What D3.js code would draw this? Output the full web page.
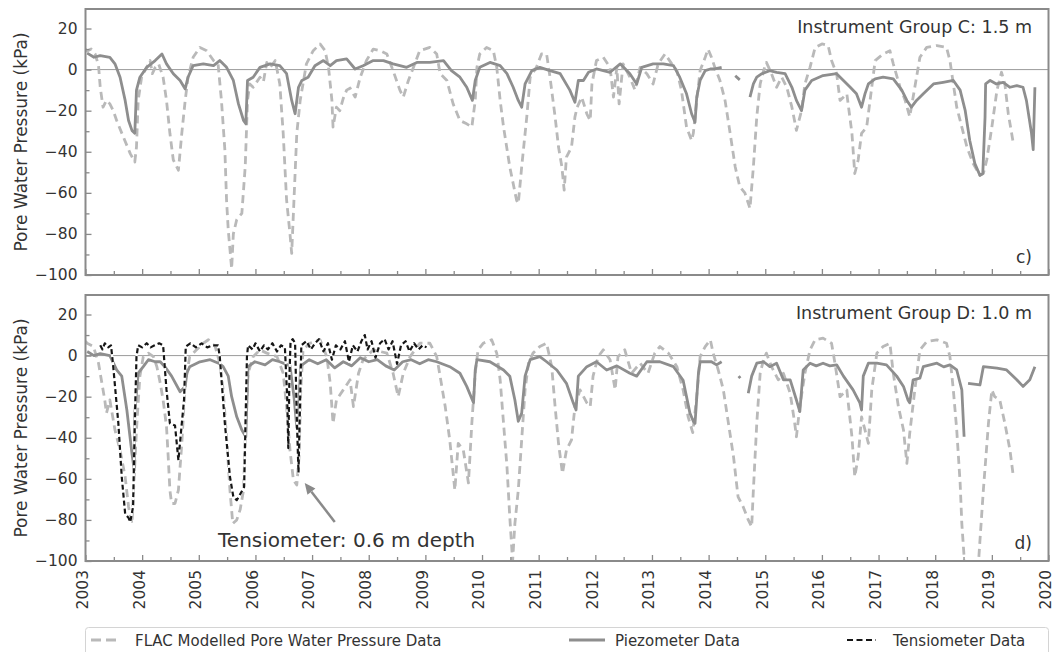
<!DOCTYPE html>
<html><head><meta charset="utf-8">
<script src="https://cdn.jsdelivr.net/npm/d3@7"></script>
<style>
body{margin:0;background:#fff}
svg text{font-family:"DejaVu Sans",sans-serif;fill:#333}
</style>
</head><body>
<svg id="chart" width="1055" height="652"></svg>
<script>
// ---------- DATA (decimal year, kPa) ----------
const yearTicks = d3.range(2003, 2021);
const yMajorTicks = [-100, -80, -60, -40, -20, 0, 20];
const yMinorTicks = [-90, -70, -50, -30, -10, 10];
const panelTitles = ["Instrument Group C: 1.5 m", "Instrument Group D: 1.0 m"];
const panelLetters = ["c)", "d)"];
const seriesNames = ["FLAC Modelled Pore Water Pressure Data", "Piezometer Data", "Tensiometer Data"];
const yAxisTitle = "Pore Water Pressure (kPa)";
const annotationText = "Tensiometer: 0.6 m depth";
const annotationTip = [2006.87, -62];
const annotationTail = [2007.40, -81];
const annotationTextPos = [2005.34, -93];

const flacC = [[2003.0,10],[2003.03,9],[2003.10,10],[2003.17,7.6],[2003.23,2],[2003.26,-8.6],[2003.31,-18.3],[2003.37,-15],[2003.43,-16.7],[2003.49,-20],[2003.55,-24.8],[2003.67,-32.9],[2003.79,-40.9],[2003.87,-45],[2003.90,-37.7],[2003.93,-15],[2003.99,-3.7],[2004.08,1.1],[2004.14,4.4],[2004.18,-2],[2004.23,1],[2004.29,2.8],[2004.37,-3.7],[2004.43,-15],[2004.49,-31],[2004.55,-44],[2004.64,-49],[2004.70,-31],[2004.76,-15],[2004.81,-3.7],[2004.90,6],[2005.02,10.8],[2005.14,9.2],[2005.26,4.4],[2005.34,2.8],[2005.40,-15],[2005.46,-39],[2005.49,-63.6],[2005.52,-78],[2005.58,-97],[2005.61,-80],[2005.67,-73],[2005.76,-70],[2005.82,-47],[2005.86,-15],[2005.90,-7],[2005.96,-8.6],[2006.08,-3.7],[2006.14,-6],[2006.20,3.5],[2006.26,1],[2006.35,4.4],[2006.43,-7],[2006.49,-31],[2006.55,-63.6],[2006.61,-80],[2006.64,-89.5],[2006.68,-63.6],[2006.73,-31],[2006.79,-15],[2006.90,2.8],[2007.02,9.2],[2007.14,12.5],[2007.23,9.2],[2007.29,1.1],[2007.35,-15],[2007.37,-28],[2007.43,-18.3],[2007.49,-20],[2007.55,-14],[2007.61,-10],[2007.67,-9],[2007.76,-13.4],[2007.85,-3.7],[2007.96,4.4],[2008.08,10],[2008.20,9.2],[2008.32,7.6],[2008.43,-0.5],[2008.55,-10],[2008.61,-13.4],[2008.70,-5.3],[2008.79,1.1],[2008.90,9.2],[2009.08,10.8],[2009.20,7.6],[2009.26,-2],[2009.38,-5.3],[2009.49,-16.7],[2009.61,-24.8],[2009.73,-26.4],[2009.82,-28],[2009.88,-15],[2009.91,1.1],[2009.96,7.6],[2010.08,10.8],[2010.20,9.2],[2010.26,1.1],[2010.32,-15],[2010.38,-28],[2010.49,-47.4],[2010.61,-63.6],[2010.64,-65.2],[2010.70,-47.4],[2010.79,-23],[2010.85,-3.7],[2010.96,1.1],[2011.05,7.6],[2011.14,7.6],[2011.20,-3.7],[2011.29,-23],[2011.35,-37.7],[2011.41,-47.4],[2011.45,-58.7],[2011.49,-42.6],[2011.58,-37.7],[2011.64,-23],[2011.68,-18.3],[2011.76,-13.4],[2011.85,-21.5],[2011.91,-24.8],[2011.94,-7],[2012.02,4.4],[2012.14,6],[2012.26,1.1],[2012.32,-13.4],[2012.38,1.1],[2012.42,-16.7],[2012.49,2.8],[2012.61,-3.7],[2012.70,-10],[2012.79,1.1],[2012.91,-2],[2013.02,-7],[2013.11,2.8],[2013.23,7.6],[2013.35,2.8],[2013.44,-0.5],[2013.52,-10],[2013.61,-28],[2013.70,-34.5],[2013.73,-31],[2013.79,-15],[2013.85,-0.5],[2013.94,6],[2013.99,10],[2014.05,6],[2014.11,1.1],[2014.20,-5.3],[2014.29,-15],[2014.38,-31],[2014.47,-47.4],[2014.55,-57],[2014.64,-60],[2014.73,-67.6],[2014.79,-47.4],[2014.85,-23],[2014.91,-7],[2014.97,-0.5],[2015.02,3.5],[2015.11,-2],[2015.20,-8.6],[2015.29,-3.7],[2015.38,-8.6],[2015.47,-18.3],[2015.55,-29.6],[2015.64,-20],[2015.70,-7],[2015.79,1.1],[2015.88,10.8],[2016.00,12.5],[2016.11,11.7],[2016.17,4.4],[2016.26,-2],[2016.32,-15],[2016.44,-11.8],[2016.53,-31],[2016.58,-50.6],[2016.64,-44],[2016.70,-31],[2016.79,-28],[2016.85,-15],[2016.94,4.4],[2017.08,7.6],[2017.20,9.2],[2017.26,2.8],[2017.38,-8.6],[2017.47,-15],[2017.55,-23],[2017.64,-8.6],[2017.73,6],[2017.85,10.8],[2018.03,11.7],[2018.20,10.8],[2018.26,4.4],[2018.32,-7],[2018.38,-18.3],[2018.47,-28],[2018.56,-37.7],[2018.67,-45.8],[2018.79,-51.5],[2018.85,-50.6],[2018.91,-44],[2019.00,-28],[2019.09,-10],[2019.17,-1.3],[2019.23,-7],[2019.29,-21.5],[2019.38,-36]];

const piezoC = [[2003.03,8],[2003.15,6],[2003.26,6.8],[2003.43,6],[2003.52,2.8],[2003.61,-3.7],[2003.70,-15],[2003.76,-24.8],[2003.82,-29.6],[2003.87,-31],[2003.90,-10],[2003.96,-3.7],[2004.08,1.1],[2004.23,4.4],[2004.35,7.6],[2004.43,2.8],[2004.55,-2],[2004.67,-5.3],[2004.76,-9.4],[2004.81,-3.7],[2004.90,1.9],[2005.08,2.8],[2005.26,1.9],[2005.37,4.4],[2005.49,1.1],[2005.61,-5.3],[2005.70,-16.7],[2005.79,-24.8],[2005.83,-26.4],[2005.86,-5.3],[2005.96,-3.7],[2006.08,1.1],[2006.26,2.8],[2006.43,1.9],[2006.55,-2],[2006.64,-15],[2006.70,-21.5],[2006.76,-8.6],[2006.82,-5.3],[2006.93,-3.7],[2007.05,1.9],[2007.20,4.4],[2007.32,1.9],[2007.43,4.4],[2007.61,5.2],[2007.76,0.3],[2007.90,1.9],[2008.08,4.4],[2008.26,4.4],[2008.43,2.8],[2008.67,1.1],[2008.85,3.5],[2009.08,3.5],[2009.32,4.4],[2009.46,-0.5],[2009.61,-3.7],[2009.73,-8.6],[2009.83,-15],[2009.88,-5.3],[2009.96,1.1],[2010.14,3.5],[2010.32,1.9],[2010.44,-2],[2010.55,-8.6],[2010.64,-15],[2010.70,-18.3],[2010.76,-7],[2010.88,-0.5],[2011.02,1.1],[2011.20,-0.5],[2011.38,-2],[2011.55,-10],[2011.64,-15.9],[2011.70,-5.3],[2011.79,-5.3],[2011.88,-1.3],[2012.02,0.3],[2012.26,-1.3],[2012.44,2.8],[2012.61,-2],[2012.73,-7],[2012.82,1.1],[2013.02,2.8],[2013.20,2.8],[2013.38,1.9],[2013.49,-3.7],[2013.61,-11.8],[2013.70,-21.5],[2013.76,-25.6],[2013.79,-13.4],[2013.85,-5.3],[2013.94,-0.5],[2014.03,0.3],[2014.11,0.3],[2014.23,1.1],[2014.24,null],[2014.47,-3],[2014.55,-5],[2014.56,null],[2014.73,-13.4],[2014.79,-7],[2014.85,-3.7],[2014.94,-2],[2015.08,-0.5],[2015.20,-1.3],[2015.35,-2],[2015.47,-8.6],[2015.55,-15],[2015.64,-20],[2015.70,-10],[2015.82,-5.3],[2016.02,-2.9],[2016.26,-2],[2016.38,-5.3],[2016.50,-8.6],[2016.61,-11.8],[2016.70,-18.3],[2016.76,-11.8],[2016.82,-7],[2016.94,-4.5],[2017.08,-3.7],[2017.26,-4.5],[2017.41,-10],[2017.50,-15],[2017.58,-18.3],[2017.67,-15],[2017.79,-11.8],[2017.97,-7],[2018.14,-6.2],[2018.32,-5.3],[2018.44,-10],[2018.53,-20],[2018.61,-34.5],[2018.70,-45.8],[2018.79,-51.5],[2018.84,-50.6],[2018.88,-23],[2018.89,-7],[2018.97,-5.3],[2019.08,-7],[2019.20,-6.2],[2019.32,-8.6],[2019.44,-7.8],[2019.55,-8.6],[2019.61,-15],[2019.70,-31],[2019.73,-39],[2019.76,-8.6]];

const flacD = [[2003.0,7],[2003.03,6],[2003.14,4.4],[2003.23,-3.7],[2003.29,-13.5],[2003.34,-21.6],[2003.37,-28],[2003.43,-21.6],[2003.52,-36.2],[2003.61,-46],[2003.70,-59],[2003.76,-73.6],[2003.82,-81.8],[2003.86,-59],[2003.90,-36.2],[2003.96,-10],[2004.02,-0.5],[2004.11,1.2],[2004.20,-0.5],[2004.26,-5.4],[2004.32,-13.5],[2004.37,-21.6],[2004.43,-34.6],[2004.46,-49.3],[2004.49,-65.5],[2004.52,-72],[2004.58,-72],[2004.64,-65.5],[2004.70,-42.7],[2004.76,-13.5],[2004.84,-0.5],[2004.96,2.8],[2005.08,6],[2005.17,7.7],[2005.29,4.4],[2005.37,-3.7],[2005.43,-16.7],[2005.49,-39.5],[2005.55,-65.5],[2005.60,-81.8],[2005.67,-80],[2005.73,-75],[2005.79,-65.5],[2005.83,-33],[2005.87,-8.6],[2005.96,-0.5],[2006.08,2.8],[2006.20,1.2],[2006.38,-0.5],[2006.49,-8.6],[2006.55,-24.8],[2006.61,-46],[2006.67,-60.6],[2006.73,-63],[2006.77,-49.3],[2006.80,-16.7],[2006.84,2.8],[2006.96,6],[2007.14,7.7],[2007.26,-0.5],[2007.32,-13.5],[2007.37,-33],[2007.43,-21.6],[2007.55,-16.7],[2007.67,-11.8],[2007.73,-24.8],[2007.82,-8.6],[2007.90,-2],[2008.08,2.8],[2008.32,1.2],[2008.43,-8.6],[2008.52,-20],[2008.61,-8.6],[2008.73,-0.5],[2008.90,6],[2009.08,6],[2009.20,-0.5],[2009.26,-10],[2009.35,-24.8],[2009.43,-41],[2009.52,-65.5],[2009.58,-42.7],[2009.67,-46],[2009.76,-62],[2009.82,-33],[2009.88,-8.6],[2009.93,2.8],[2010.02,6],[2010.17,7.7],[2010.26,1.2],[2010.32,-11.8],[2010.38,-33],[2010.44,-54],[2010.49,-78.5],[2010.54,-100],[2010.58,-81.8],[2010.64,-65.5],[2010.70,-41],[2010.76,-16.7],[2010.82,-3.7],[2010.90,1.2],[2011.02,4.4],[2011.14,6],[2011.23,-5.4],[2011.29,-24.8],[2011.35,-42.7],[2011.42,-57.4],[2011.49,-46],[2011.58,-41],[2011.64,-24.8],[2011.73,-16.7],[2011.85,-23],[2011.91,-24.8],[2011.96,-10],[2012.05,-0.5],[2012.14,2.8],[2012.26,-2],[2012.35,-16.7],[2012.40,-0.5],[2012.52,2.8],[2012.64,-8.6],[2012.79,-3.7],[2012.93,-8.6],[2013.05,1.2],[2013.14,4.4],[2013.29,1.2],[2013.44,-5.4],[2013.55,-16.7],[2013.64,-30],[2013.72,-37.5],[2013.77,-25],[2013.80,-16.7],[2013.85,-0.5],[2013.94,4.4],[2014.03,7.7],[2014.08,1.2],[2014.17,-7],[2014.26,-16.7],[2014.35,-33],[2014.44,-49.3],[2014.52,-68.8],[2014.61,-73.6],[2014.70,-80],[2014.76,-83.4],[2014.79,-65.5],[2014.85,-33],[2014.91,-8.6],[2014.97,-2],[2015.02,1.2],[2015.11,-5.4],[2015.23,-11.8],[2015.32,-8.6],[2015.44,-18.3],[2015.52,-33],[2015.55,-39.5],[2015.61,-24.8],[2015.70,-8.6],[2015.79,2.8],[2015.88,7.7],[2016.02,8.5],[2016.17,6],[2016.23,-3.7],[2016.32,-20],[2016.44,-16.7],[2016.53,-39.5],[2016.58,-59],[2016.64,-49.3],[2016.70,-29.8],[2016.76,-36.2],[2016.82,-42.7],[2016.88,-16.7],[2016.97,1.2],[2017.08,4.4],[2017.20,6],[2017.26,-8.6],[2017.35,-24.8],[2017.44,-36.2],[2017.50,-52.5],[2017.55,-37.9],[2017.64,-16.7],[2017.73,2.8],[2017.85,6.8],[2018.03,7.7],[2018.20,6],[2018.26,-0.5],[2018.32,-16.7],[2018.38,-36.2],[2018.44,-62],[2018.47,-81.8],[2018.51,-98],[2018.54,-115],[2018.73,-115],[2018.79,-90],[2018.85,-65.5],[2018.94,-33],[2019.00,-16.7],[2019.05,-20],[2019.14,-21.6],[2019.23,-33],[2019.32,-46],[2019.38,-59]];

const piezoD = [[2003.03,2],[2003.15,0],[2003.26,1],[2003.43,0],[2003.55,-7],[2003.64,-10],[2003.73,-26.5],[2003.82,-47.6],[2003.86,-55.8],[2003.87,-28],[2003.93,-8.5],[2004.02,-5.4],[2004.11,-2],[2004.23,-3],[2004.32,-3],[2004.40,-5.4],[2004.52,-10],[2004.67,-17.6],[2004.76,-15],[2004.79,-8.5],[2004.84,-5.4],[2005.02,-3],[2005.20,-2],[2005.37,-4],[2005.43,-5.4],[2005.52,-10],[2005.58,-20],[2005.67,-29.8],[2005.76,-36.2],[2005.83,-39.5],[2005.86,-13.5],[2005.87,-5.4],[2005.99,-3],[2006.17,-4.5],[2006.30,-2],[2006.43,-3],[2006.61,-5],[2006.68,-20],[2006.73,-35],[2006.77,-20],[2006.80,-5],[2006.95,-2],[2007.10,-4],[2007.25,-2],[2007.40,-6],[2007.55,-3],[2007.70,-5],[2007.85,-1],[2008.00,-3],[2008.15,-2],[2008.30,-5],[2008.45,-7],[2008.60,-3],[2008.75,-2],[2008.90,-4],[2009.05,-2],[2009.20,-3],[2009.43,-5.4],[2009.61,-8.6],[2009.73,-15],[2009.85,-23],[2009.88,-7],[2009.91,-2],[2010.14,-3],[2010.38,-7],[2010.49,-10],[2010.58,-21.6],[2010.64,-32],[2010.70,-28],[2010.76,-10],[2010.85,-2],[2011.02,-0.5],[2011.14,-3],[2011.32,-7],[2011.49,-13.5],[2011.61,-23],[2011.66,-26.5],[2011.70,-10],[2011.85,-5.4],[2012.02,-3],[2012.20,-7],[2012.38,-5],[2012.61,-8.6],[2012.73,-10],[2012.91,-3],[2013.14,-3],[2013.38,-5.4],[2013.55,-12],[2013.67,-28],[2013.73,-32],[2013.76,-33],[2013.82,-8.6],[2013.85,-3],[2013.94,-3],[2014.05,-3],[2014.14,-4.5],[2014.23,-3],[2014.24,null],[2014.53,-10],[2014.56,-11],[2014.57,null],[2014.70,-18.3],[2014.76,-10],[2014.85,-3.7],[2014.97,-3],[2015.08,-5.4],[2015.20,-3.7],[2015.32,-11.8],[2015.44,-11.8],[2015.55,-21.6],[2015.61,-27.3],[2015.67,-7],[2015.79,-3.7],[2015.90,-5],[2016.02,-3.7],[2016.14,-5],[2016.26,-4.5],[2016.38,-10],[2016.55,-16.7],[2016.67,-23],[2016.70,-26.5],[2016.73,-10],[2016.82,-3.7],[2016.97,-3.7],[2017.14,-4.5],[2017.32,-10],[2017.44,-15],[2017.52,-21.6],[2017.55,-23],[2017.61,-11.8],[2017.73,-11],[2017.79,-5.4],[2018.03,-3.7],[2018.15,-5.5],[2018.26,-4.5],[2018.38,-7],[2018.47,-16.7],[2018.51,-39.5],[2018.52,null],[2018.58,-13.5],[2018.79,-14.3],[2018.85,-5.4],[2019.09,-6.1],[2019.26,-7],[2019.44,-11.8],[2019.55,-15],[2019.67,-11.8],[2019.76,-5.4]];

const tensD = [[2003.26,5],[2003.30,3],[2003.34,6],[2003.40,4],[2003.45,5],[2003.49,-5.4],[2003.58,-33],[2003.64,-59],[2003.70,-77],[2003.76,-79],[2003.79,-81],[2003.84,-73.6],[2003.87,-33],[2003.90,-0.5],[2003.93,5],[2004.00,4],[2004.08,6],[2004.15,4],[2004.22,5],[2004.30,6],[2004.37,5],[2004.43,-16.7],[2004.49,-33],[2004.58,-34],[2004.64,-51],[2004.70,-33],[2004.74,-21.6],[2004.77,4.4],[2004.85,6],[2004.95,4],[2005.05,6],[2005.15,4],[2005.25,5],[2005.34,5],[2005.37,-0.5],[2005.46,-33],[2005.55,-59],[2005.61,-68.8],[2005.67,-70.4],[2005.74,-67],[2005.80,-64],[2005.85,-0.5],[2005.87,5],[2005.95,3],[2006.00,6],[2006.08,2],[2006.15,5],[2006.22,3],[2006.30,6],[2006.38,2],[2006.45,5],[2006.52,4],[2006.56,-20],[2006.58,-45],[2006.60,-10],[2006.62,7],[2006.66,8],[2006.70,6],[2006.73,-30],[2006.76,-57],[2006.79,-20],[2006.81,5],[2006.90,7],[2006.98,3],[2007.05,6],[2007.12,8],[2007.20,2],[2007.28,6],[2007.35,-2],[2007.42,5],[2007.50,3],[2007.58,7],[2007.65,-3],[2007.72,5],[2007.80,2],[2007.87,7],[2007.93,10],[2007.98,3],[2008.05,7],[2008.12,-1],[2008.20,6],[2008.28,8],[2008.35,3],[2008.42,7],[2008.50,-4],[2008.57,5],[2008.65,7],[2008.72,2],[2008.80,6],[2008.88,3],[2008.95,5],[2009.02,4]];

// ---------- LAYOUT ----------
const svg = d3.select("#chart");
const plotLeft = 85.5, plotRight = 1048.5;
const panelsBox = [{top: 9, bottom: 275}, {top: 295, bottom: 561}];
const COL_FLAC = "#b9b9b9", COL_PIEZO = "#8e8e8e", COL_TENS = "#161616", COL_AX = "#8a8a8a";

const x = d3.scaleLinear().domain([2003, 2020]).range([plotLeft, plotRight]);
const minorX = d3.range(2003.5, 2020, 1);

const panels = [
  {box: panelsBox[0], flac: flacC, piezo: piezoC, tens: null, title: panelTitles[0], letter: panelLetters[0], labels: false},
  {box: panelsBox[1], flac: flacD, piezo: piezoD, tens: tensD, title: panelTitles[1], letter: panelLetters[1], labels: true}
];

panels.forEach((p, i) => {
  const y = d3.scaleLinear().domain([-100, 29.5]).range([p.box.bottom, p.box.top]);
  const g = svg.append("g");
  const clipId = "clip" + i;
  svg.append("defs").append("clipPath").attr("id", clipId)
    .append("rect").attr("x", plotLeft).attr("y", p.box.top)
    .attr("width", plotRight - plotLeft).attr("height", p.box.bottom - p.box.top);

  // zero line
  g.append("line").attr("x1", plotLeft).attr("x2", plotRight)
    .attr("y1", y(0)).attr("y2", y(0)).attr("stroke", "#9a9a9a").attr("stroke-width", 1);

  const line = d3.line().defined(d => d[1] !== null).x(d => x(d[0])).y(d => y(d[1]));
  const lg = g.append("g").attr("clip-path", `url(#${clipId})`);
  lg.append("path").datum(p.flac).attr("d", line).attr("fill", "none")
    .attr("stroke", COL_FLAC).attr("stroke-width", 2.8).attr("stroke-dasharray", "8,5")
    .attr("stroke-linejoin", "round");
  lg.append("path").datum(p.piezo).attr("d", line).attr("fill", "none")
    .attr("stroke", COL_PIEZO).attr("stroke-width", 2.8).attr("stroke-linejoin", "round");
  if (p.tens) {
    lg.append("path").datum(p.tens).attr("d", line).attr("fill", "none")
      .attr("stroke", "#ffffff").attr("stroke-width", 2.2).attr("stroke-linejoin", "round");
    lg.append("path").datum(p.tens).attr("d", line).attr("fill", "none")
      .attr("stroke", COL_TENS).attr("stroke-width", 2.2).attr("stroke-dasharray", "5,3")
      .attr("stroke-linejoin", "round");
  }

  // axes
  const yAx = g.append("g").attr("transform", `translate(${plotLeft},0)`)
    .call(d3.axisLeft(y).tickValues(yMajorTicks).tickSizeInner(-6).tickSizeOuter(0).tickPadding(8)
      .tickFormat(d => d < 0 ? "\u2212" + Math.abs(d) : d));
  const yMin = g.append("g").attr("transform", `translate(${plotLeft},0)`)
    .call(d3.axisLeft(y).tickValues(yMinorTicks).tickSizeInner(-4).tickSizeOuter(0).tickFormat(""));
  const xAx = g.append("g").attr("transform", `translate(0,${p.box.bottom})`)
    .call(d3.axisBottom(x).tickValues(yearTicks).tickSizeInner(-6).tickSizeOuter(0)
      .tickFormat(p.labels ? d3.format("d") : ""));
  const xMin = g.append("g").attr("transform", `translate(0,${p.box.bottom})`)
    .call(d3.axisBottom(x).tickValues(minorX).tickSizeInner(-4).tickSizeOuter(0).tickFormat(""));
  [yAx, yMin, xAx, xMin].forEach(a => {
    a.select(".domain").remove();
    a.selectAll("line").attr("stroke", COL_AX).attr("stroke-width", 1.3);
    a.attr("font-family", null).attr("font-size", null);
    a.selectAll("text").style("font-size", "15.5px").attr("fill", "#333");
  });
  if (p.labels) {
    xAx.selectAll("text").attr("y", 0).attr("x", -9).attr("dy", "0.12em")
      .attr("text-anchor", "end").attr("transform", "rotate(-90)");
  }

  // frame
  g.append("rect").attr("x", plotLeft).attr("y", p.box.top)
    .attr("width", plotRight - plotLeft).attr("height", p.box.bottom - p.box.top)
    .attr("fill", "none").attr("stroke", COL_AX).attr("stroke-width", 2);

  // y label
  g.append("text").attr("transform", `translate(27,${(p.box.top + p.box.bottom) / 2}) rotate(-90)`)
    .attr("text-anchor", "middle").style("font-size", "17px").text(yAxisTitle);

  // title + letter
  g.append("text").attr("x", 1032).attr("y", p.box.top + 24).attr("text-anchor", "end")
    .style("font-size", "17.5px").attr("fill", "#2a2a2a").text(p.title);
  g.append("text").attr("x", 1032).attr("y", p.box.bottom - 12).attr("text-anchor", "end")
    .style("font-size", "17px").attr("fill", "#2a2a2a").text(p.letter);

  if (p.tens) {
    const tx = x(annotationTail[0]), ty = y(annotationTail[1]);
    const hx = x(annotationTip[0]), hy = y(annotationTip[1]);
    const ang = Math.atan2(hy - ty, hx - tx);
    const L = 11, Wd = 5;
    const bx = hx - L * Math.cos(ang), by = hy - L * Math.sin(ang);
    g.append("line").attr("x1", tx).attr("y1", ty).attr("x2", bx).attr("y2", by)
      .attr("stroke", "#8a8a8a").attr("stroke-width", 2.5);
    g.append("polygon").attr("points", [
      [hx, hy],
      [bx + Wd * Math.sin(ang), by - Wd * Math.cos(ang)],
      [bx - Wd * Math.sin(ang), by + Wd * Math.cos(ang)]
    ].map(pt => pt.join(",")).join(" ")).attr("fill", "#8a8a8a");
    g.append("text").attr("x", x(annotationTextPos[0])).attr("y", y(annotationTextPos[1]))
      .style("font-size", "20px").attr("fill", "#2a2a2a").text(annotationText);
  }
});

// ---------- LEGEND ----------
const leg = svg.append("g");
leg.append("rect").attr("x", 85.5).attr("y", 627.5).attr("width", 963).attr("height", 40)
  .attr("rx", 3).attr("fill", "#fff").attr("stroke", "#d4d4d4").attr("stroke-width", 1);
const legendItems = [
  {name: seriesNames[0], x0: 91, x1: 119, tx: 135, color: COL_FLAC, dash: "10,5", w: 2.8},
  {name: seriesNames[1], x0: 569, x1: 605, tx: 615, color: COL_PIEZO, dash: null, w: 2.8},
  {name: seriesNames[2], x0: 847, x1: 876, tx: 893, color: COL_TENS, dash: "6,3.5", w: 2}
];
legendItems.forEach(it => {
  leg.append("line").attr("x1", it.x0).attr("x2", it.x1).attr("y1", 640).attr("y2", 640)
    .attr("stroke", it.color).attr("stroke-width", it.w).attr("stroke-dasharray", it.dash);
  leg.append("text").attr("x", it.tx).attr("y", 645.5).style("font-size", "15px")
    .attr("fill", "#333").text(it.name);
});
</script>
</body></html>
